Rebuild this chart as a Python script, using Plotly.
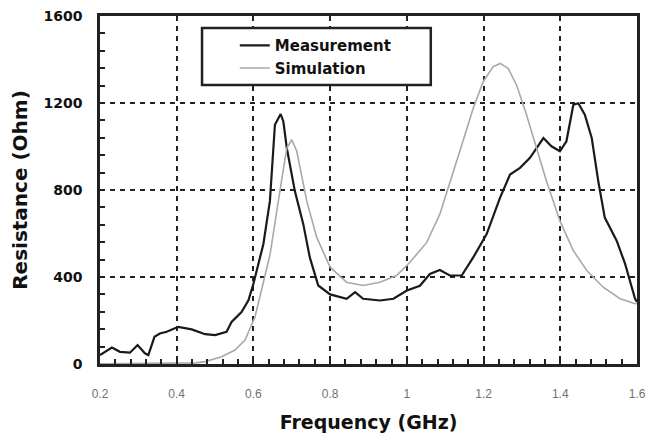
import plotly.graph_objects as go

meas_f = [0.200, 0.231, 0.252, 0.278, 0.298, 0.317, 0.326, 0.342, 0.356, 0.374, 0.404,
          0.439, 0.474, 0.500, 0.530, 0.543, 0.569, 0.587, 0.600, 0.613, 0.626, 0.643,
          0.656, 0.671, 0.678, 0.687, 0.708, 0.730, 0.747, 0.769, 0.800, 0.843, 0.865,
          0.886, 0.930, 0.965, 1.000, 1.034, 1.060, 1.086, 1.112, 1.143, 1.173, 1.208,
          1.243, 1.269, 1.295, 1.321, 1.338, 1.356, 1.377, 1.399, 1.416, 1.434, 1.447,
          1.464, 1.482, 1.499, 1.516, 1.547, 1.569, 1.582, 1.595, 1.600]
meas_r = [41, 76, 56, 52, 87, 49, 41, 125, 140, 148, 171,
          159, 137, 133, 148, 193, 239, 293, 369, 460, 552, 750,
          1100, 1149, 1115, 993, 795, 643, 490, 361, 320, 300, 330,
          300, 292, 300, 338, 360, 414, 432, 407, 407, 490, 597,
          765, 871, 902, 948, 993, 1039, 1001, 978, 1024, 1192, 1199,
          1146, 1039, 841, 673, 567, 460, 384, 300, 285]

sim_f = [0.200, 0.300, 0.400, 0.450, 0.474, 0.517, 0.552, 0.578, 0.604, 0.621, 0.634,
         0.643, 0.669, 0.687, 0.700, 0.713, 0.739, 0.765, 0.800, 0.843, 0.886, 0.930,
         0.973, 1.008, 1.052, 1.086, 1.138, 1.173, 1.199, 1.225, 1.243, 1.264, 1.286,
         1.312, 1.338, 1.364, 1.399, 1.434, 1.469, 1.512, 1.556, 1.595, 1.600]
sim_r = [1, 2, 3, 5, 11, 33, 64, 110, 216, 338, 445,
         500, 795, 993, 1031, 978, 750, 582, 445, 376, 361, 376,
         407, 468, 559, 689, 978, 1176, 1298, 1367, 1382, 1359, 1283,
         1146, 993, 841, 658, 521, 430, 353, 300, 277, 278]

x_ticks = [0.2, 0.4, 0.6, 0.8, 1.0, 1.2, 1.4, 1.6]
x_labels = ["0.2", "0.4", "0.6", "0.8", "1", "1.2", "1.4", "1.6"]
y_ticks = [0, 400, 800, 1200, 1600]
y_labels = ["0", "400", "800", "1200", "1600"]

BOLD = "DejaVu Sans"

fig = go.Figure()
fig.add_trace(go.Scatter(x=meas_f, y=meas_r, mode="lines", name="Measurement",
                         line=dict(color="#1a1a1a", width=2.2)))
fig.add_trace(go.Scatter(x=sim_f, y=sim_r, mode="lines", name="Simulation",
                         line=dict(color="#a9a9a9", width=1.6)))

axis_common = dict(
    showline=True, linecolor="#222", linewidth=2.5, mirror=True,
    showgrid=True, gridcolor="#222", gridwidth=1.6, griddash="5px,5px",
    ticks="inside", ticklen=5, tickwidth=1.5, tickcolor="#222",
    zeroline=False, automargin=False, ticklabeloverflow="allow",
)

fig.update_xaxes(range=[0.2, 1.6], tickvals=x_ticks, ticktext=x_labels,
                 minor=dict(dtick=0.04, tick0=0.2, ticks="inside", ticklen=5,
                            tickwidth=1.5, tickcolor="#222", showgrid=False),
                 ticklabelstandoff=17,
                 tickfont=dict(family="Liberation Sans", size=12, color="#707070"),
                 title=dict(text="<b>Frequency (GHz)</b>", standoff=16,
                            font=dict(family=BOLD, size=19, color="#111")),
                 **axis_common)
fig.update_yaxes(range=[0, 1600], tickvals=y_ticks, ticktext=y_labels,
                 minor=dict(dtick=80, tick0=0, ticks="inside", ticklen=5,
                            tickwidth=1.5, tickcolor="#222", showgrid=False),
                 ticklabelstandoff=12,
                 tickfont=dict(family=BOLD, size=14, color="#111", weight="bold"),
                 title=dict(text="<b>Resistance (Ohm)</b>", standoff=12,
                            font=dict(family=BOLD, size=20, color="#111")),
                 **axis_common)

# legend frame (covers grid like the original)
fig.add_shape(type="rect", xref="paper", yref="paper",
              x0=0.190, x1=0.616, y0=0.802, y1=0.9655,
              fillcolor="white", line=dict(color="#222", width=2.5), layer="above")

fig.update_layout(
    width=661, height=438,
    margin=dict(l=92, r=32, t=8, b=82),
    paper_bgcolor="white", plot_bgcolor="white",
    font=dict(family="Liberation Sans"),
    showlegend=True,
    legend=dict(x=0.251, y=0.962, xanchor="left", yanchor="top",
                bgcolor="rgba(0,0,0,0)", borderwidth=0,
                font=dict(family=BOLD, size=15, color="#111", weight="bold"),
                tracegroupgap=0),
)

fig.write_html("out.html")
